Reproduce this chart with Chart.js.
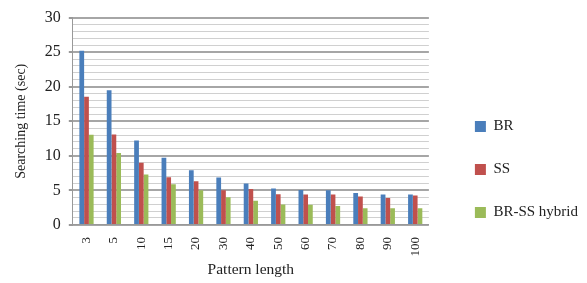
<!DOCTYPE html>
<html>
<head>
<meta charset="utf-8">
<script src="https://cdn.jsdelivr.net/npm/chart.js@4"></script>
<style>
  html, body { margin: 0; padding: 0; background: #fff; }
  #wrap { width: 587px; height: 283px; }
</style>
</head>
<body>
<div id="wrap"><canvas id="chart" width="587" height="283"></canvas></div>
<script>
// Pattern lengths on the x axis
const patternLengths = ['3', '5', '10', '15', '20', '30', '40', '50', '60', '70', '80', '90', '100'];

// Searching time (sec)
const brTimes = [25.2, 19.5, 12.2, 9.7, 7.9, 6.85, 6.0, 5.25, 5.05, 5.0, 4.6, 4.4, 4.4];
const ssTimes = [18.55, 13.1, 9.0, 6.9, 6.3, 5.0, 5.2, 4.45, 4.4, 4.4, 4.1, 3.9, 4.25];
const hybridTimes = [13.05, 10.4, 7.3, 5.9, 5.0, 4.0, 3.5, 2.95, 2.9, 2.75, 2.4, 2.4, 2.4];

const serif = '"Liberation Serif", "Times New Roman", serif';

// The legend sits further right and lower than Chart.js puts it by default,
// so nudge it after layout (the plot area keeps its own size).
const legendNudge = {
  id: 'legendNudge',
  afterLayout(chart) {
    const l = chart.legend;
    if (!l) return;
    const dx = 18, dy = 26;
    l.left += dx; l.right += dx;
    l.top += dy; l.bottom += dy;
  },
};

const isMajor = (c) => c.tick && c.tick.value % 5 === 0;

/* global Chart */
const ctx = document.getElementById('chart').getContext('2d');
new Chart(ctx, {
  type: 'bar',
  data: {
    labels: patternLengths,
    datasets: [
      { label: 'BR', data: brTimes, backgroundColor: '#4a7ebb' },
      { label: 'SS', data: ssTimes, backgroundColor: '#c0504d' },
      { label: 'BR-SS hybrid', data: hybridTimes, backgroundColor: '#9bbb59' },
    ],
  },
  plugins: [legendNudge],
  options: {
    responsive: false,
    animation: false,
    layout: { padding: { top: 4, right: 17, left: 4, bottom: 0 } },
    datasets: { bar: { categoryPercentage: 0.52, barPercentage: 1 } },
    plugins: {
      tooltip: { enabled: false },
      legend: {
        position: 'right',
        align: 'center',
        labels: {
          boxWidth: 11,
          boxHeight: 11,
          padding: 28,
          color: '#222',
          font: { family: serif, size: 15 },
        },
      },
    },
    scales: {
      x: {
        offset: true,
        grid: { display: false },
        border: { color: '#999' },
        ticks: {
          minRotation: 90,
          maxRotation: 90,
          color: '#222',
          padding: 4,
          font: { family: serif, size: 13 },
        },
        title: {
          display: true,
          text: 'Pattern length',
          color: '#222',
          padding: { top: 0 },
          font: { family: serif, size: 15.5 },
        },
      },
      y: {
        min: 0,
        max: 30,
        grid: {
          color: (c) => (isMajor(c) ? '#a6a6a6' : '#d0d0d0'),
          lineWidth: (c) => (isMajor(c) ? 2 : 1),
          tickColor: (c) => (isMajor(c) ? '#999' : 'rgba(0,0,0,0)'),
          tickLength: 4,
        },
        border: { color: '#999' },
        ticks: {
          stepSize: 1,
          autoSkip: false,
          color: '#222',
          padding: 8,
          font: { family: serif, size: 16 },
          callback: (v) => (v % 5 === 0 ? v : ''),
        },
        title: {
          display: true,
          text: 'Searching time (sec)',
          color: '#222',
          padding: { top: 9, bottom: 7 },
          font: { family: serif, size: 14 },
        },
      },
    },
  },
});
</script>
</body>
</html>
